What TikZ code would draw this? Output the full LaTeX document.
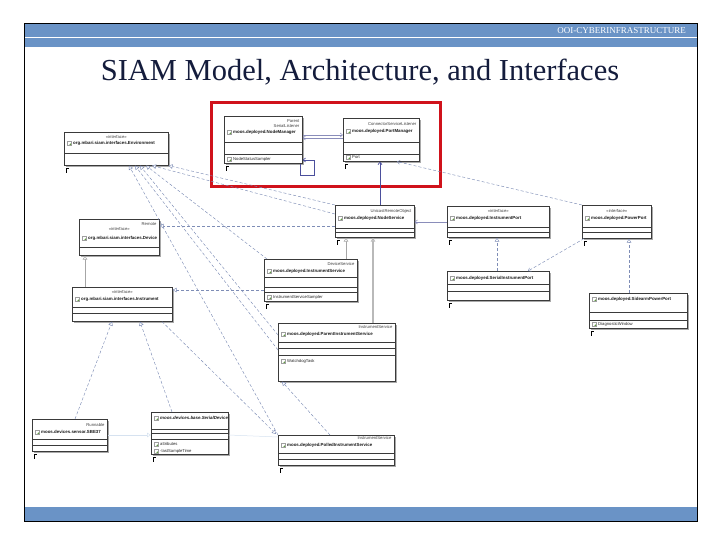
\documentclass[tikz,border=0pt]{standalone}
\usepackage{fontspec}
\setmainfont{Liberation Serif}
\setsansfont{Liberation Sans}
\usetikzlibrary{arrows.meta,positioning,calc,shadows}
\definecolor{slideblue}{HTML}{6A93C6}
\definecolor{ttlink}{HTML}{141C3C}
\definecolor{umlink}{HTML}{3A3A3A}
\definecolor{umlshade}{HTML}{A0A0A0}
\definecolor{navyln}{HTML}{4B4F9C}
\definecolor{assocln}{HTML}{8A8DBA}
\definecolor{dashln}{HTML}{7E8DB6}
\definecolor{faintln}{HTML}{D6E2F0}
\definecolor{markred}{HTML}{D0121B}
\definecolor{iconok}{HTML}{5E9C3E}
\tikzset{
  cls/.style={draw=umlink, fill=white, line width=0.6pt, anchor=north west, inner sep=0pt,
    drop shadow={shadow xshift=1.3pt, shadow yshift=-1.3pt, fill=umlshade, opacity=0.9}},
  dv/.style={draw=umlink, line width=0.5pt},
  tx/.style={inner sep=0pt, font=\sffamily\fontsize{4.2}{5}\selectfont},
  stp/.style={tx, text=black!75},
  nm/.style={tx, font=\sffamily\bfseries\fontsize{4.4}{5}\selectfont, text=black!90, anchor=west},
  att/.style={tx, text=black!85, anchor=west},
  icn/.style={draw=gray!75, fill=white, minimum size=3.6pt, inner sep=0pt, line width=0.3pt,
    path picture={\fill[iconok] (path picture bounding box.south east) circle (1.4pt);}},
  pin/.style={draw=black, line width=0.8pt},
  real/.style={draw=dashln, dash pattern=on 3pt off 2pt, line width=0.45pt,
    -{Triangle[open, length=4pt, width=4.5pt, fill=white]}},
  gen/.style={draw=gray!70, line width=0.6pt, -{Triangle[open, length=4pt, width=4.5pt, fill=white]}},
  dep/.style={draw=dashln, dash pattern=on 3pt off 2pt, line width=0.45pt, -{Straight Barb[length=2.5pt, width=4pt]}},
  arr/.style={draw=assocln, line width=0.5pt, -{Straight Barb[length=2.5pt, width=4pt]}},
  hdr/.style={text=white, font=\fontsize{9}{10}\selectfont, inner sep=0pt},
  ttl/.style={text=ttlink, font=\fontsize{30.5}{32}\selectfont, inner sep=0pt},
}

\begin{document}
\begin{tikzpicture}[x=1pt, y=-1pt]
  \useasboundingbox (0,0) rectangle (720,540);

  % slide frame
  \fill[slideblue] (24,23.5) rectangle (697,47);
  \draw[white, line width=1pt] (24,37.5) -- (697,37.5);
  \fill[slideblue] (24,507) rectangle (697,521);
  \draw[black, line width=0.8pt] (24,23.5) rectangle (697,521);
  \node[hdr, anchor=east] (hdr) at (686,30.5) {OOI-CYBERINFRASTRUCTURE};
  \node[ttl] (title) at (360,72) {SIAM Model, Architecture, and Interfaces};

  % class boxes
  \foreach \n/\x/\y/\w/\h in {
    env/64/132/104/33, nodemgr/224/116/78/47, portmgr/343/118/76/43,
    nodesvc/335/205/79/32, instport/447/206/102/31, powerport/582/205/69/33,
    serport/447/271/102/29, sidearm/589/293/98/35, device/79/219/80/36,
    instr/72/287/100/34, instsvc/264/259/93/42, parsvc/278/323/117/58,
    runnable/32/419/75/32, devimpl/151/412/77/42, polled/278/435/116/30}
  {
    \node[cls, minimum width=\w pt, minimum height=\h pt] (\n) at (\x,\y) {};
  }

  % compartments
  \foreach \n/\y in {env/153, nodemgr/142, nodemgr/154, portmgr/142, portmgr/154,
    nodesvc/228, nodesvc/232, instport/227, instport/232, powerport/227, powerport/232,
    serport/284, serport/291, sidearm/312, sidearm/320, device/247, instr/307, instr/313,
    instsvc/277, instsvc/287, instsvc/292, parsvc/342, parsvc/348, parsvc/355,
    runnable/439, runnable/445, devimpl/429, devimpl/433, devimpl/439, polled/453, polled/459}
    \draw[dv] (\n.west |- 0,\y) -- (\n.east |- 0,\y);

  % stereotypes
  \foreach \n/\y/\t in {nodemgr/121/Parent, nodemgr/126/SerialListener,
    portmgr/124/ConnectorServiceListener, nodesvc/211/UnicastRemoteObject,
    device/224/Remote, instsvc/264/DeviceService, parsvc/327/InstrumentService,
    runnable/425/Runnable, polled/438/InstrumentService}
    \node[stp, anchor=east] at ($(\n.east |- 0,\y)+(-3,0)$) {\t};
  \foreach \n/\y in {env/137, instport/211, powerport/211, device/229, instr/292}
    \node[stp] at (\n.center |- 0,\y) {«interface»};

  % class names
  \foreach \n/\y/\t in {env/143/org.mbari.siam.interfaces.Environment,
    nodemgr/132/moos.deployed.NodeManager, portmgr/131/moos.deployed.PortManager,
    nodesvc/218/moos.deployed.NodeService, instport/218/moos.deployed.InstrumentPort,
    powerport/218/moos.deployed.PowerPort, serport/278/moos.deployed.SerialInstrumentPort,
    sidearm/299/moos.deployed.SidearmPowerPort, device/238/org.mbari.siam.interfaces.Device,
    instr/299/org.mbari.siam.interfaces.Instrument, instsvc/271/moos.deployed.InstrumentService,
    parsvc/334/moos.deployed.ParentInstrumentService, runnable/432/moos.devices.sensor.SBE37,
    devimpl/418/\textit{moos.devices.base.SerialDevice}, polled/445/moos.deployed.PolledInstrumentService}
  {
    \node[icn] at ($(\n.west |- 0,\y)+(5,0)$) {};
    \node[nm] at ($(\n.west |- 0,\y)+(9,0)$) {\t};
  }

  % members
  \foreach \n/\y/\t in {nodemgr/159/NodeStatusSampler, portmgr/157/Port,
    sidearm/324/DiagnosticWindow, instsvc/297/InstrumentServiceSampler,
    parsvc/361/WatchdogTask, devimpl/444/attributes, devimpl/451/-lastSampleTime}
  {
    \node[icn] at ($(\n.west |- 0,\y)+(5,0)$) {};
    \node[att] at ($(\n.west |- 0,\y)+(9,0)$) {\t};
  }

  % pins
  \foreach \n in {env, nodemgr, portmgr, nodesvc, instport, powerport, serport,
    sidearm, instsvc, runnable, devimpl, polled}
    \draw[pin] ($(\n.south west)+(2,7)$) -- ++(0,-4.5) -- ++(2.5,0);

  % highlight
  \node[draw=markred, line width=3pt, anchor=north west, inner sep=0pt,
    minimum width=229pt, minimum height=84pt] (focus) at (209.5,101.5) {};

  % associations
  \draw[arr] (nodemgr.east |- 0,135) -- (portmgr.west |- 0,135);
  \draw[arr] (portmgr.west |- 0,138) -- (nodemgr.east |- 0,138);
  \draw[navyln, line width=0.6pt, -{Straight Barb[length=2.5pt, width=4pt]}]
    (nodemgr.south -| 300,0) -- (300,175) -- (314,175) -- (314,160) -- (nodemgr.east |- 0,160);
  \draw[navyln, line width=0.7pt, -{Straight Barb[length=2.5pt, width=4pt]}]
    (nodesvc.north -| 380,0) -- (portmgr.south -| 380,0);
  \draw[arr] (instport.west |- 0,222) -- (nodesvc.east |- 0,222);
  \draw[dep] (powerport.north west) -- (portmgr.south -| 397,0);
  \draw[dep] ($(powerport.south west)+(2,0)$) -- (serport.north -| 528,0);

  % generalisations and realisations
  \draw[gen] (instsvc.north -| 346,0) -- (nodesvc.south -| 346,0);
  \draw[gen, line width=1.5pt, draw=gray!55] (parsvc.north -| 373,0) -- (nodesvc.south -| 373,0);
  \draw[gen] (instr.north -| 85,0) -- (device.south -| 85,0);
  \draw[real] (nodesvc.west |- 0,226) -- (device.east |- 0,226);
  \draw[real] (instsvc.west |- 0,290) -- (instr.east |- 0,290);
  \draw[real] (serport.north -| 497,0) -- (instport.south -| 497,0);
  \draw[real] (sidearm.north -| 629,0) -- (powerport.south -| 629,0);
  \draw[real] (nodesvc.north west) -- (env.south east);
  \draw[real] (nodesvc.west |- 0,214) -- (env.south -| 152,0);
  \draw[real] ($(instsvc.north west)+(3,0)$) -- (env.south -| 146,0);
  \draw[real] (parsvc.west |- 0,335) -- (env.south -| 140,0);
  \draw[real] (parsvc.west |- 0,350) -- (env.south -| 135,0);
  \draw[real] (polled.north west) -- (env.south -| 129,0);
  \draw[real] (runnable.north -| 75,0) -- (instr.south -| 112,0);
  \draw[real] (devimpl.north -| 172,0) -- (instr.south -| 140,0);
  \draw[real] (instr.south -| 162,0) -- ($(polled.north west)+(-2,-1)$);
  \draw[real] (polled.north -| 330,0) -- (parsvc.south -| 282,0);
  \draw[faintln, line width=0.5pt, -{Triangle[open, length=4pt, width=4.5pt, fill=white]}]
    (runnable.east |- 0,435) -- (devimpl.west |- 0,435);
  \draw[faintln, line width=0.5pt] (devimpl.east |- 0,435) -- (polled.west |- 0,437);
\end{tikzpicture}
\end{document}
